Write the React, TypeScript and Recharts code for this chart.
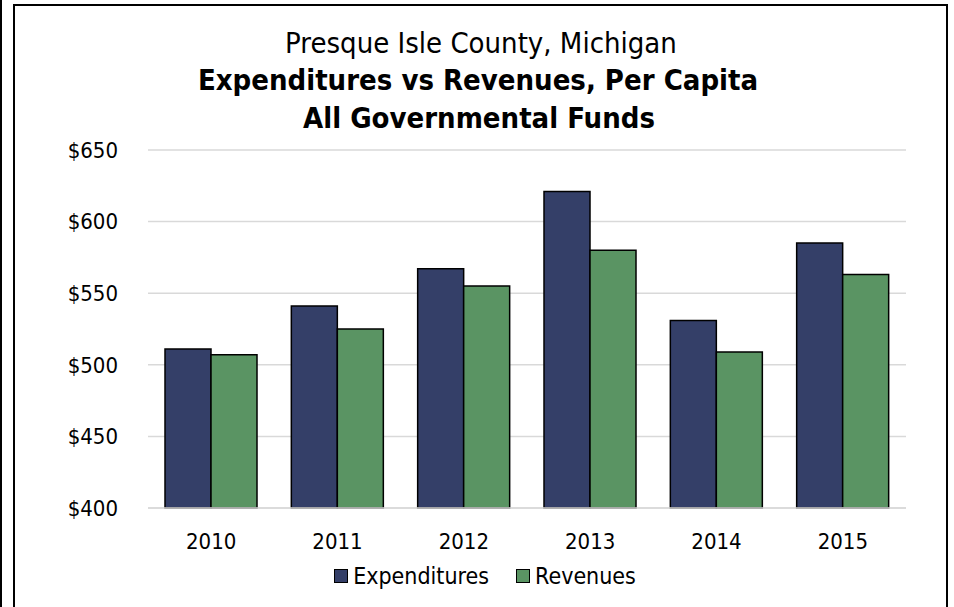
import React from "react";
import { Bar, BarChart, CartesianGrid, XAxis, YAxis } from "recharts";

const years = ["2010", "2011", "2012", "2013", "2014", "2015"];
const expenditures = [511, 541, 567, 621, 531, 585];
const revenues = [507, 525, 555, 580, 509, 563];
const yTicks = [400, 450, 500, 550, 600, 650];
const titleLines = [
  "Presque Isle County, Michigan",
  "Expenditures vs Revenues, Per Capita",
  "All Governmental Funds",
];

const FONT = "'DejaVu Sans Condensed', 'DejaVu Sans', sans-serif";
const NAVY = "#343f68";
const GREEN = "#5a9463";

export default function App() {
  const data = years.map((year, i) => ({
    year,
    expenditures: expenditures[i],
    revenues: revenues[i],
  }));

  return (
    <div
      style={{
        position: "absolute",
        left: 0,
        top: 0,
        width: 954,
        height: 607,
        overflow: "hidden",
        background: "#fff",
        fontFamily: FONT,
      }}
    >
      {/* edge of the neighbouring frame */}
      <div style={{ position: "absolute", left: 0, top: 0, width: 2, height: 607, background: "#000" }} />
      {/* chart frame */}
      <div
        style={{
          position: "absolute",
          left: 13,
          top: 4,
          width: 935,
          height: 620,
          border: "2px solid #000",
          boxSizing: "border-box",
        }}
      />

      <BarChart
        width={954}
        height={607}
        data={data}
        margin={{ top: 150, right: 48, left: 0, bottom: 0 }}
        barGap={0}
        style={{ position: "absolute", left: 0, top: 0 }}
      >
        <CartesianGrid vertical={false} stroke="#d9d9d9" strokeWidth={1.5} />
        <XAxis
          dataKey="year"
          height={99}
          tickSize={0}
          tickMargin={25}
          axisLine={{ stroke: "#d9d9d9", strokeWidth: 1.5 }}
          tick={{ fontSize: 22, fill: "#000", fontFamily: FONT }}
        />
        <YAxis
          width={148}
          domain={[400, 650]}
          ticks={yTicks}
          tickFormatter={(v) => `$${v}`}
          axisLine={false}
          tickSize={0}
          tickMargin={30}
          tick={{ fontSize: 22, fill: "#000", fontFamily: FONT }}
        />
        <Bar dataKey="expenditures" name="Expenditures" fill={NAVY} stroke="#000" strokeWidth={1.5} barSize={46} isAnimationActive={false} />
        <Bar dataKey="revenues" name="Revenues" fill={GREEN} stroke="#000" strokeWidth={1.5} barSize={46} isAnimationActive={false} />
      </BarChart>

      <svg width={954} height={140} style={{ position: "absolute", left: 0, top: 0 }}>
        <text x={481} y={53} textAnchor="middle" fontSize={29} fontFamily={FONT} fill="#000">
          {titleLines[0]}
        </text>
        <text x={478} y={90} textAnchor="middle" fontSize={29} fontWeight="bold" fontFamily={FONT} fill="#000">
          {titleLines[1]}
        </text>
        <text x={479} y={128} textAnchor="middle" fontSize={29} fontWeight="bold" fontFamily={FONT} fill="#000">
          {titleLines[2]}
        </text>
      </svg>

      {/* legend */}
      <div
        style={{
          position: "absolute",
          left: 0,
          width: 970,
          top: 563,
          display: "flex",
          justifyContent: "center",
          alignItems: "center",
          fontSize: 23,
          color: "#000",
        }}
      >
        {[
          { label: "Expenditures", color: NAVY },
          { label: "Revenues", color: GREEN },
        ].map((item, i) => (
          <div key={item.label} style={{ display: "flex", alignItems: "center", marginLeft: i ? 27 : 0 }}>
            <span
              style={{
                display: "inline-block",
                width: 14,
                height: 14,
                background: item.color,
                border: "1.5px solid #000",
                boxSizing: "border-box",
                marginRight: 5,
              }}
            />
            <span>{item.label}</span>
          </div>
        ))}
      </div>
    </div>
  );
}
